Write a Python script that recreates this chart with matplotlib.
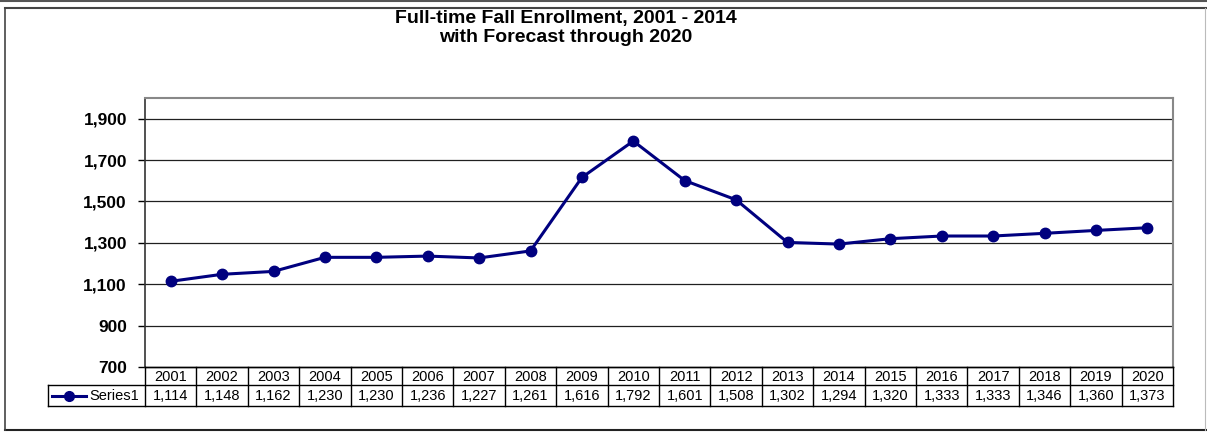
import matplotlib
matplotlib.use("Agg")
import matplotlib.pyplot as plt
from matplotlib.lines import Line2D
from matplotlib.ticker import FuncFormatter

plt.rcParams['font.family'] = ['Liberation Sans', 'DejaVu Sans']

years = ["2001", "2002", "2003", "2004", "2005", "2006", "2007", "2008", "2009", "2010",
         "2011", "2012", "2013", "2014", "2015", "2016", "2017", "2018", "2019", "2020"]
enrollment = [1114, 1148, 1162, 1230, 1230, 1236, 1227, 1261, 1616, 1792,
              1601, 1508, 1302, 1294, 1320, 1333, 1333, 1346, 1360, 1373]
series_name = "Series1"
title_lines = ["Full-time Fall Enrollment, 2001 - 2014", "with Forecast through 2020"]
y_ticks = [700, 900, 1100, 1300, 1500, 1700, 1900]

W, H = 1207, 432
fig = plt.figure(figsize=(W / 100, H / 100), dpi=100)
fig.patch.set_facecolor("white")

def fx(x):
    return x / W

def fy(y):
    return 1 - y / H

# plot area geometry (pixels)
L, R, T, B = 145, 1173, 98, 367
ax = fig.add_axes([fx(L), fy(B), fx(R) - fx(L), fy(T) - fy(B)])

navy = "#00007f"
xs = list(range(len(years)))
ax.plot(xs, enrollment, color=navy, lw=2.2, marker="o", markersize=7.5,
        markerfacecolor=navy, markeredgecolor=navy, zorder=3)

ax.set_xlim(-0.5, len(years) - 0.5)
ax.set_ylim(700, 2000)
ax.set_yticks(y_ticks)
ax.yaxis.set_major_formatter(FuncFormatter(lambda v, p: f"{int(v):,}"))
ax.set_xticks([])
for v in y_ticks[1:]:
    ax.axhline(v, color="#202020", lw=0.9, zorder=1)

ax.tick_params(axis="y", direction="out", length=5, width=1, color="black",
               labelsize=12.5, pad=8)
for lab in ax.get_yticklabels():
    lab.set_fontweight("bold")

for side in ["top", "right"]:
    ax.spines[side].set_color("#888888")
    ax.spines[side].set_linewidth(1.5)
ax.spines["left"].set_color("#333333")
ax.spines["left"].set_linewidth(1.2)
ax.spines["bottom"].set_color("black")
ax.spines["bottom"].set_linewidth(1.0)

# title (two lines)
fig.text(fx(566), fy(19), title_lines[0], ha="center", va="center", fontsize=14,
         fontweight="bold")
fig.text(fx(566), fy(38), title_lines[1], ha="center", va="center", fontsize=14,
         fontweight="bold")

# outer frame lines
def hline(x0, x1, y, color="black", lw=1.0):
    fig.add_artist(Line2D([fx(x0), fx(x1)], [fy(y), fy(y)], color=color, lw=lw))

def vline(x, y0, y1, color="black", lw=1.0):
    fig.add_artist(Line2D([fx(x), fx(x)], [fy(y0), fy(y1)], color=color, lw=lw))

hline(0, W, 1, color="#555555", lw=1.5)
hline(5, W, 8, color="#444444", lw=1.5)
hline(5, W, 430, color="#222222", lw=1.5)
vline(5, 8, 430, color="#444444", lw=1.2)
vline(1205, 8, 430, color="#bbbbbb", lw=0.8)

# data table
row1_top, row_sep, row2_bot = B, 385, 406
LBL = 48
colw = (R - L) / len(years)
hline(L, R, row1_top, lw=1.0)
hline(LBL, R, row_sep, lw=1.0)
hline(LBL, R, row2_bot, lw=1.0)
vline(LBL, row_sep, row2_bot, lw=1.0)
for i in range(len(years) + 1):
    vline(L + i * colw, row1_top, row2_bot, lw=1.0)
for i, (yr, val) in enumerate(zip(years, enrollment)):
    cx = L + (i + 0.5) * colw
    fig.text(fx(cx), fy((row1_top + row_sep) / 2 + 1), yr, ha="center", va="center",
             fontsize=10.5)
    fig.text(fx(cx), fy((row_sep + row2_bot) / 2 + 1), f"{val:,}", ha="center",
             va="center", fontsize=10.5)

# legend key in label cell
ly = fy((row_sep + row2_bot) / 2)
fig.add_artist(Line2D([fx(52), fx(86)], [ly, ly], color=navy, lw=2.2))
fig.add_artist(Line2D([fx(69)], [ly], color=navy, marker="o", markersize=7, lw=0))
fig.text(fx(89), fy((row_sep + row2_bot) / 2 + 1), series_name, ha="left", va="center",
         fontsize=10.5)

fig.savefig("out.png", dpi=100, facecolor="white")
